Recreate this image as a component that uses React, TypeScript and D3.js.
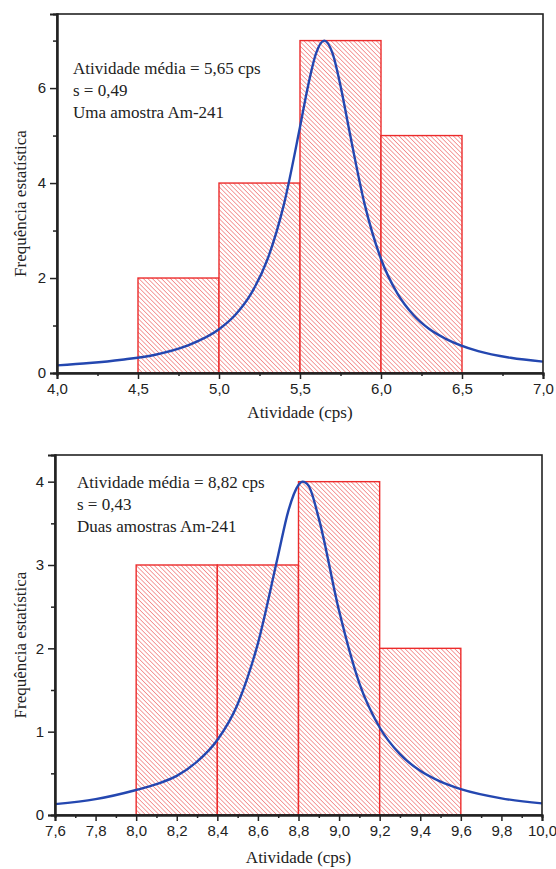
import { useEffect, useRef } from 'react';
import * as d3 from 'd3';

// top chart: one Am-241 sample
const binEdgesTop = [4.5, 5.0, 5.5, 6.0, 6.5];
const countsTop = [2, 4, 7, 5];
const fitXTop = [4.0, 4.2, 4.4, 4.6, 4.8, 5.0, 5.1, 5.2, 5.3, 5.4, 5.5, 5.55, 5.6, 5.65, 5.7, 5.75, 5.8, 5.9, 6.0, 6.1, 6.2, 6.3, 6.4, 6.6, 6.8, 7.0];
const fitYTop = [0.16, 0.21, 0.28, 0.38, 0.57, 0.92, 1.22, 1.68, 2.4, 3.54, 5.18, 6.05, 6.74, 7.0, 6.74, 6.05, 5.18, 3.54, 2.4, 1.68, 1.22, 0.92, 0.72, 0.46, 0.32, 0.24];
const xTicksTop = [4.0, 4.5, 5.0, 5.5, 6.0, 6.5, 7.0];
const yTicksTop = [0, 2, 4, 6];
const notesTop = ['Atividade média = 5,65 cps', 's = 0,49', 'Uma amostra Am-241'];

// bottom chart: two Am-241 samples
const binEdgesBot = [8.0, 8.4, 8.8, 9.2, 9.6];
const countsBot = [3, 3, 4, 2];
const fitXBot = [7.6, 7.8, 8.0, 8.1, 8.2, 8.3, 8.4, 8.5, 8.6, 8.7, 8.75, 8.8, 8.82, 8.85, 8.9, 9.0, 9.1, 9.2, 9.3, 9.4, 9.5, 9.6, 9.8, 10.0];
const fitYBot = [0.13, 0.19, 0.3, 0.37, 0.47, 0.64, 0.9, 1.33, 2.06, 3.12, 3.65, 3.96, 4.0, 3.95, 3.56, 2.45, 1.58, 1.05, 0.73, 0.53, 0.4, 0.31, 0.2, 0.14];
const xTicksBot = [7.6, 7.8, 8.0, 8.2, 8.4, 8.6, 8.8, 9.0, 9.2, 9.4, 9.6, 9.8, 10.0];
const yTicksBot = [0, 1, 2, 3, 4];
const notesBot = ['Atividade média = 8,82 cps', 's = 0,43', 'Duas amostras Am-241'];

const SERIF = 'Liberation Serif';
const SANS = 'Liberation Sans';
const comma = (v) => d3.format('.1f')(v).replace('.', ',');

function drawChart(svg, cfg) {
  const { left, right, top, bottom, xDomain, yDomain } = cfg;
  const x = d3.scaleLinear().domain(xDomain).range([left, right]);
  const y = d3.scaleLinear().domain(yDomain).range([bottom, top]);
  const g = svg.append('g');

  // bars
  const bars = cfg.counts.map((c, i) => ({ x0: cfg.edges[i], x1: cfg.edges[i + 1], c }));
  g.selectAll('rect.bar')
    .data(bars)
    .enter()
    .append('rect')
    .attr('class', 'bar')
    .attr('x', (d) => x(d.x0))
    .attr('y', (d) => y(d.c))
    .attr('width', (d) => x(d.x1) - x(d.x0))
    .attr('height', (d) => y(0) - y(d.c))
    .attr('fill', 'url(#hatch)')
    .attr('stroke', '#ec2b2b')
    .attr('stroke-width', 1.4);

  // fitted curve
  const clipId = 'clip' + cfg.id;
  svg.append('clipPath').attr('id', clipId)
    .append('rect').attr('x', left).attr('y', top).attr('width', right - left).attr('height', bottom - top);
  const pts = cfg.fitX.map((v, i) => [v, cfg.fitY[i]]);
  const line = d3.line().x((d) => x(d[0])).y((d) => y(d[1])).curve(d3.curveMonotoneX);
  g.append('path')
    .attr('d', line(pts))
    .attr('clip-path', `url(#${clipId})`)
    .attr('fill', 'none')
    .attr('stroke', '#2447b0')
    .attr('stroke-width', 2.4);

  // frame
  g.append('rect')
    .attr('x', left).attr('y', top)
    .attr('width', right - left).attr('height', bottom - top)
    .attr('fill', 'none').attr('stroke', '#222').attr('stroke-width', 1.6);

  // axes
  const xAxis = g.append('g').attr('transform', `translate(0,${bottom})`)
    .call(d3.axisBottom(x).tickValues(cfg.xTicks).tickSize(6).tickPadding(4).tickFormat(comma));
  g.append('g').attr('transform', `translate(0,${bottom})`)
    .call(d3.axisBottom(x).tickValues(cfg.xMinor).tickSize(3).tickFormat(() => ''));
  const yAxis = g.append('g').attr('transform', `translate(${left},0)`)
    .call(d3.axisLeft(y).tickValues(cfg.yTicks).tickSize(7).tickPadding(4).tickFormat(d3.format('d')));
  g.append('g').attr('transform', `translate(${left},0)`)
    .call(d3.axisLeft(y).tickValues(cfg.yMinor).tickSize(4).tickFormat(() => ''));
  g.selectAll('.domain').attr('stroke', '#222').attr('stroke-width', 2);
  g.selectAll('.tick line').attr('stroke', '#222').attr('stroke-width', 1.5);
  [xAxis, yAxis].forEach((a) => a.selectAll('text')
    .attr('font-family', SANS).attr('font-size', 15).attr('fill', '#222'));

  // titles
  g.append('text')
    .attr('x', (left + right) / 2).attr('y', cfg.xTitleY)
    .attr('text-anchor', 'middle')
    .attr('font-family', SERIF).attr('font-size', 17).attr('fill', '#222')
    .text('Atividade (cps)');
  g.append('text')
    .attr('transform', `translate(26,${(top + bottom) / 2 + 10}) rotate(-90)`)
    .attr('text-anchor', 'middle')
    .attr('font-family', SERIF).attr('font-size', 17).attr('fill', '#222')
    .text('Frequência estatística');

  // annotation
  g.selectAll('text.note')
    .data(cfg.notes)
    .enter()
    .append('text')
    .attr('class', 'note')
    .attr('x', cfg.noteX)
    .attr('y', (d, i) => cfg.noteY + i * 22)
    .attr('font-family', SERIF).attr('font-size', 17).attr('fill', '#222')
    .text((d) => d);
}

function App() {
  const ref = useRef(null);
  useEffect(() => {
    const root = d3.select(ref.current);
    root.selectAll('*').remove();
    const svg = root.append('svg').attr('width', 556).attr('height', 869)
      .style('position', 'absolute').style('left', 0).style('top', 0).style('background', '#fff');

    const pat = svg.append('defs').append('pattern')
      .attr('id', 'hatch')
      .attr('patternUnits', 'userSpaceOnUse')
      .attr('width', 3.2).attr('height', 3.2)
      .attr('patternTransform', 'rotate(-45)');
    pat.append('rect').attr('width', 3.2).attr('height', 3.2).attr('fill', '#fff');
    pat.append('line').attr('x1', 0).attr('y1', 0).attr('x2', 0).attr('y2', 3.2)
      .attr('stroke', '#ee5555').attr('stroke-width', 1.1);

    drawChart(svg, {
      id: 'top', left: 57, right: 543, top: 14, bottom: 373,
      xDomain: [4, 7], yDomain: [0, 7.56],
      edges: binEdgesTop, counts: countsTop, fitX: fitXTop, fitY: fitYTop,
      xTicks: xTicksTop, xMinor: [4.25, 4.75, 5.25, 5.75, 6.25, 6.75],
      yTicks: yTicksTop, yMinor: [1, 3, 5, 7],
      notes: notesTop, noteX: 73, noteY: 74, xTitleY: 418,
    });
    drawChart(svg, {
      id: 'bot', left: 55, right: 542, top: 455, bottom: 815,
      xDomain: [7.6, 10], yDomain: [0, 4.32],
      edges: binEdgesBot, counts: countsBot, fitX: fitXBot, fitY: fitYBot,
      xTicks: xTicksBot, xMinor: [7.7, 7.9, 8.1, 8.3, 8.5, 8.7, 8.9, 9.1, 9.3, 9.5, 9.7, 9.9],
      yTicks: yTicksBot, yMinor: [0.5, 1.5, 2.5, 3.5],
      notes: notesBot, noteX: 77, noteY: 488, xTitleY: 863,
    });
  }, []);
  return <div ref={ref}></div>;
}

export default App;
